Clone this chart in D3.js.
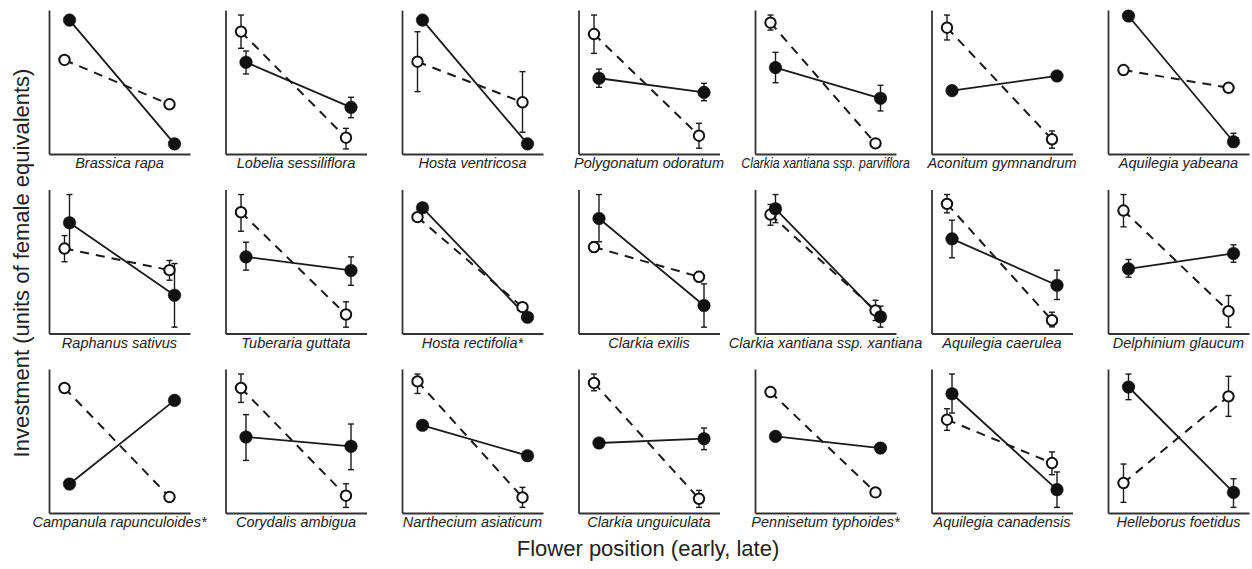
<!DOCTYPE html>
<html>
<head>
<meta charset="utf-8" />
<title>Flower position investment</title>
<script src="https://cdn.jsdelivr.net/npm/d3@7"></script>
<style>
  body { margin: 0; background: #fff; font-family: "Liberation Sans", Arial, sans-serif; }
  .frame path { stroke: #333; stroke-width: 1.8; }
  .label { font-size: 14.5px; font-style: italic; fill: #222; }
  .title { font-size: 22px; fill: #222; }
</style>
</head>
<body>
<div id="graphic"></div>
<script>
// panel names, left to right, top to bottom
var species = ["Brassica rapa", "Lobelia sessiliflora", "Hosta ventricosa", "Polygonatum odoratum",
  "Clarkia xantiana ssp. parviflora", "Aconitum gymnandrum", "Aquilegia yabeana",
  "Raphanus sativus", "Tuberaria guttata", "Hosta rectifolia*", "Clarkia exilis",
  "Clarkia xantiana ssp. xantiana", "Aquilegia caerulea", "Delphinium glaucum",
  "Campanula rapunculoides*", "Corydalis ambigua", "Narthecium asiaticum", "Clarkia unguiculata",
  "Pennisetum typhoides*", "Aquilegia canadensis", "Helleborus foetidus"];

var positions = ["early", "late"];

// investment (relative to each panel's height, 0 = axis)
var filledEarly = [0.93, 0.637, 0.93, 0.526, 0.60, 0.44, 0.958,
  0.769, 0.532, 0.873, 0.799, 0.866, 0.657, 0.449,
  0.201, 0.528, 0.609, 0.486, 0.532, 0.828, 0.875];
var filledLate = [0.07, 0.324, 0.07, 0.428, 0.387, 0.542, 0.085,
  0.266, 0.438, 0.113, 0.194, 0.116, 0.335, 0.556,
  0.782, 0.463, 0.398, 0.516, 0.451, 0.162, 0.143];
var openEarly = [0.653, 0.85, 0.641, 0.833, 0.912, 0.877, 0.583,
  0.59, 0.842, 0.808, 0.60, 0.826, 0.90, 0.854,
  0.868, 0.868, 0.914, 0.903, 0.84, 0.648, 0.208];
var openLate = [0.345, 0.113, 0.359, 0.127, 0.074, 0.102, 0.46,
  0.44, 0.132, 0.183, 0.394, 0.16, 0.092, 0.155,
  0.111, 0.12, 0.108, 0.099, 0.143, 0.347, 0.81];

// error bars [low, high], null where none is drawn
var filledEarlyErr = [null, [0.556, 0.715], null, [0.463, 0.59], [0.495, 0.706], null, null,
  [0.58, 0.965], [0.44, 0.634], null, [0.637, 0.965], [0.77, 0.965], [0.526, 0.787], [0.391, 0.514],
  null, [0.365, 0.683], null, null, null, [0.694, 0.965], [0.787, 0.965]];
var filledLateErr = [null, [0.252, 0.394], null, [0.37, 0.491], [0.299, 0.477], null, [0.05, 0.144],
  [0.044, 0.486], [0.335, 0.532], null, [0.044, 0.345], [0.044, 0.19], [0.236, 0.44], [0.495, 0.616],
  null, [0.301, 0.618], null, [0.44, 0.59], null, [0.039, 0.285], [0.039, 0.238]];
var openEarlyErr = [null, [0.734, 0.965], [0.433, 0.849], [0.699, 0.965], [0.861, 0.965], [0.792, 0.965], null,
  [0.498, 0.68], [0.71, 0.965], null, [0.565, 0.637], [0.752, 0.896], [0.838, 0.965], [0.741, 0.965],
  null, [0.768, 0.965], [0.83, 0.965], [0.849, 0.965], null, [0.574, 0.724], [0.074, 0.34]];
var openLateErr = [null, [0.035, 0.178], [0.151, 0.572], [0.04, 0.213], null, [0.04, 0.16], null,
  [0.37, 0.507], [0.044, 0.22], null, [0.36, 0.43], [0.09, 0.231], [0.046, 0.148], [0.044, 0.264],
  null, [0.039, 0.203], [0.039, 0.178], [0.039, 0.157], null, [0.266, 0.424], [0.671, 0.949]];

var width = 1252, height = 569;
var panelW = 141, panelH = 144;
var left0 = 49, colStep = 176.5;
var rowTops = [10, 189.5, 369];

var svg = d3.select("#graphic").append("svg")
  .attr("width", width)
  .attr("height", height);

var x = d3.scalePoint().domain(positions).range([18, 123]);
var xFrame = d3.scaleLinear().range([0, panelW]);
var y = d3.scaleLinear().domain([0, 1]).range([panelH, 0]);
var dodge = { filled: 2.5, open: -2.5 };

var line = d3.line()
  .x(function (d) { return x(d.pos) + d.dx; })
  .y(function (d) { return y(d.v); });

var labels = [];

species.forEach(function (name, i) {
  var col = i % 7, row = Math.floor(i / 7);
  var gx = left0 + col * colStep;
  var g = svg.append("g")
    .attr("transform", "translate(" + gx + "," + rowTops[row] + ")");

  g.append("g").attr("class", "frame")
    .call(d3.axisLeft(y).tickValues([]).tickSizeOuter(0));
  g.append("g").attr("class", "frame")
    .attr("transform", "translate(0," + panelH + ")")
    .call(d3.axisBottom(xFrame).tickValues([]).tickSizeOuter(0));

  var series = [
    { kind: "open", pts: [openEarly[i], openLate[i]], err: [openEarlyErr[i], openLateErr[i]] },
    { kind: "filled", pts: [filledEarly[i], filledLate[i]], err: [filledEarlyErr[i], filledLateErr[i]] }
  ];

  series.forEach(function (s) {
    s.data = s.pts.map(function (v, k) {
      return { pos: positions[k], v: v, dx: dodge[s.kind], err: s.err[k] };
    });
    g.append("path")
      .datum(s.data)
      .attr("d", line)
      .attr("fill", "none")
      .attr("stroke", "#1a1a1a")
      .attr("stroke-width", s.kind === "open" ? 2 : 1.8)
      .attr("stroke-dasharray", s.kind === "open" ? "9,7" : null);
  });

  // error bars
  series.forEach(function (s) {
    s.data.forEach(function (d) {
      if (!d.err) return;
      var cx = x(d.pos) + d.dx;
      var eg = g.append("g").attr("stroke", "#1a1a1a").attr("stroke-width", 1.4);
      eg.append("line").attr("x1", cx).attr("x2", cx).attr("y1", y(d.err[0])).attr("y2", y(d.err[1]));
      eg.append("line").attr("x1", cx - 3).attr("x2", cx + 3).attr("y1", y(d.err[0])).attr("y2", y(d.err[0]));
      eg.append("line").attr("x1", cx - 3).attr("x2", cx + 3).attr("y1", y(d.err[1])).attr("y2", y(d.err[1]));
    });
  });

  series.forEach(function (s) {
    g.selectAll(null)
      .data(s.data)
      .enter()
      .append("circle")
      .attr("cx", function (d) { return x(d.pos) + d.dx; })
      .attr("cy", function (d) { return y(d.v); })
      .attr("r", s.kind === "open" ? 5.2 : 6.3)
      .attr("fill", s.kind === "open" ? "#fff" : "#111")
      .attr("stroke", "#111")
      .attr("stroke-width", s.kind === "open" ? 2 : 0.5);
  });

  var t = g.append("text")
    .attr("class", "label")
    .attr("x", panelW / 2)
    .attr("y", panelH + 14)
    .attr("text-anchor", "middle")
    .text(name);
  labels.push({ node: t.node(), row: row, gx: gx });
});

// squeeze a very long label only when it runs into its right-hand neighbour
labels.forEach(function (l, i) {
  var next = labels[i + 1];
  if (!next || next.row !== l.row) return;
  var w = l.node.getComputedTextLength();
  var nw = next.node.getComputedTextLength();
  var right = l.gx + panelW / 2 + w / 2;
  var nextLeft = next.gx + panelW / 2 - nw / 2;
  if (w > colStep - 6 && right > nextLeft - 4) {
    d3.select(l.node)
      .attr("textLength", colStep - 8)
      .attr("lengthAdjust", "spacingAndGlyphs");
  }
});

svg.append("text")
  .attr("class", "title")
  .attr("transform", "translate(29," + 263 + ") rotate(-90)")
  .attr("text-anchor", "middle")
  .text("Investment (units of female equivalents)");

svg.append("text")
  .attr("class", "title")
  .attr("x", 648)
  .attr("y", 556)
  .attr("text-anchor", "middle")
  .text("Flower position (early, late)");
</script>
</body>
</html>
